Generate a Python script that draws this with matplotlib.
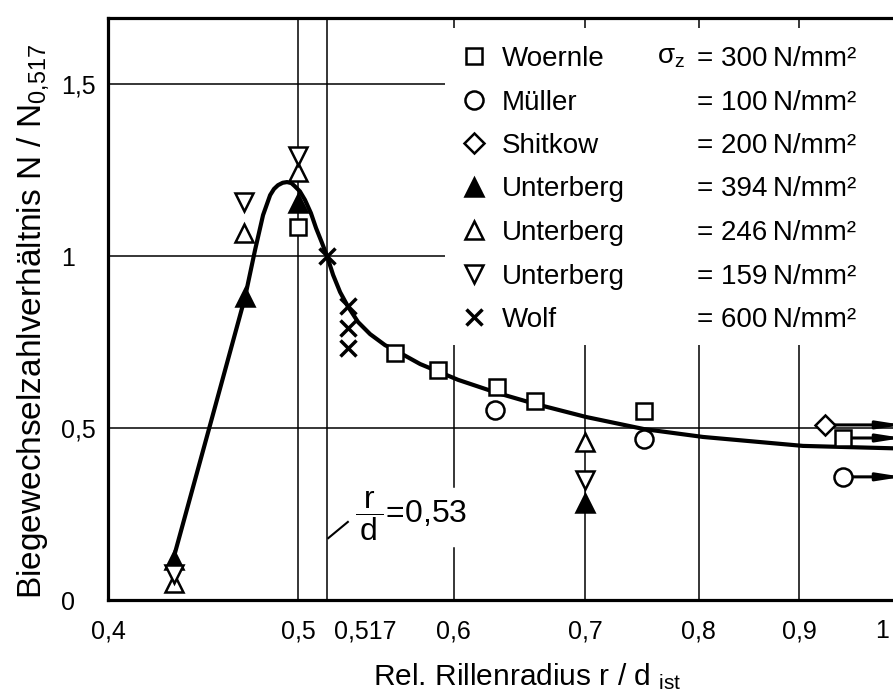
import matplotlib
matplotlib.use('Agg')
import matplotlib.pyplot as plt
import matplotlib.ticker as mticker
import matplotlib.transforms as mtransforms
from matplotlib.patches import Rectangle
from matplotlib.lines import Line2D

plt.rcParams['font.family'] = ['Liberation Sans', 'DejaVu Sans']
plt.rcParams['mathtext.fontset'] = 'custom'
plt.rcParams['mathtext.rm'] = 'Liberation Sans'
plt.rcParams['mathtext.it'] = 'Liberation Sans'
plt.rcParams['mathtext.bf'] = 'Liberation Sans:bold'

# values: x = r / d_ist, y = N / N_0,517
woernle_x = [0.500, 0.560, 0.589, 0.631, 0.660, 0.750, 0.947]
woernle_y = [1.085, 0.718, 0.669, 0.619, 0.578, 0.549, 0.471]
mueller_x = [0.630, 0.750, 0.947]
mueller_y = [0.552, 0.468, 0.358]
shitkow_x = [0.928]
shitkow_y = [0.509]
unt394_x = [0.432, 0.470, 0.500, 0.700]
unt394_y = [0.116, 0.881, 1.155, 0.282]
unt246_x = [0.432, 0.469, 0.500, 0.700]
unt246_y = [0.050, 1.067, 1.245, 0.460]
unt159_x = [0.432, 0.469, 0.500, 0.700]
unt159_y = [0.076, 1.157, 1.290, 0.349]
wolf_x = [0.517, 0.530, 0.530, 0.530]
wolf_y = [1.000, 0.855, 0.790, 0.733]

# fitted curve
curve_x = [0.4317, 0.4509, 0.4698, 0.4753, 0.4798, 0.4838, 0.4860, 0.4883, 0.4910,
           0.4935, 0.4960, 0.4980, 0.5010, 0.5040, 0.5075, 0.5106, 0.5140, 0.5172,
           0.5209, 0.5252, 0.5302, 0.5364, 0.5440, 0.5536, 0.5636, 0.5769, 0.6032,
           0.6315, 0.6603, 0.701, 0.750, 0.804, 0.904, 1.02]
curve_y = [0.116, 0.509, 0.881, 1.017, 1.119, 1.177, 1.195, 1.206, 1.213,
           1.215, 1.212, 1.203, 1.188, 1.163, 1.125, 1.081, 1.040, 1.000,
           0.945, 0.895, 0.852, 0.808, 0.773, 0.741, 0.718, 0.686, 0.640,
           0.602, 0.570, 0.532, 0.497, 0.474, 0.448, 0.440]

# points with values beyond the range (arrow to the right)
beyond_x = [0.928, 0.947, 0.947]
beyond_y = [0.509, 0.471, 0.358]

xticks = [0.4, 0.5, 0.517, 0.6, 0.7, 0.8, 0.9, 1.0]
xticklabels = ['0,4', '0,5', '0,517', '0,6', '0,7', '0,8', '0,9', '1']
yticks = [0, 0.5, 1, 1.5]
yticklabels = ['0', '0,5', '1', '1,5']

names = ['Woernle', 'Müller', 'Shitkow', 'Unterberg', 'Unterberg', 'Unterberg', 'Wolf']
stress = ['300', '100', '200', '394', '246', '159', '600']

fig = plt.figure(figsize=(8.93, 6.93), dpi=100)
ax = fig.add_axes([108 / 893, 1 - 600 / 693, 789.5 / 893, 582 / 693])
ax.set_xscale('log')
ax.set_xlim(0.4, 1.01)
ax.set_ylim(0, 1.692)

# grid
glw = 1.1
for xv in [0.5, 0.517, 0.7, 0.8, 0.9]:
    ax.axvline(xv, color='black', lw=glw, zorder=1)
ax.axvline(0.6, ymin=0, ymax=0.089, color='black', lw=glw, zorder=1)
ax.axvline(0.6, ymin=0.194, ymax=1, color='black', lw=glw, zorder=1)
for yv in [0.5, 1.0, 1.5]:
    ax.axhline(yv, color='black', lw=glw, zorder=1)
# white area behind the legend
ax.add_patch(Rectangle((0.427, 0.438), 0.7, 0.545, transform=ax.transAxes,
                       facecolor='white', edgecolor='none', zorder=1.5))

ax.plot(curve_x, curve_y, color='black', lw=3, zorder=2, solid_joinstyle='round')

mew = 1.8
h1, = ax.plot(woernle_x, woernle_y, 's', ms=11, mfc='white', mec='black', mew=mew, zorder=3)
h2, = ax.plot(mueller_x, mueller_y, 'o', ms=13, mfc='white', mec='black', mew=mew, zorder=3)
h3, = ax.plot(shitkow_x, shitkow_y, 'D', ms=10, mfc='white', mec='black', mew=mew, zorder=3)
h4, = ax.plot(unt394_x, unt394_y, '^', ms=13, mfc='black', mec='black', mew=mew, zorder=3)
h5, = ax.plot(unt246_x, unt246_y, '^', ms=13, mfc='white', mec='black', mew=mew, zorder=3)
h6, = ax.plot(unt159_x, unt159_y, 'v', ms=13, mfc='white', mec='black', mew=mew, zorder=3)
h7, = ax.plot(wolf_x, wolf_y, 'x', ms=11, mec='black', mew=2.5, zorder=3)

for bx, by in zip(beyond_x, beyond_y):
    ax.annotate('', xy=(1.016, by), xytext=(bx * 1.01, by), annotation_clip=False,
                arrowprops=dict(arrowstyle='-|>,head_length=1.4,head_width=0.22',
                                color='black', lw=2.2, shrinkA=0, shrinkB=0),
                zorder=2.5)

# r/d = 0,53 note
ax.plot([0.518, 0.530], [0.18, 0.227], color='black', lw=1.5)
ax.text(0.5345, 0.243, r'$\dfrac{\,r\,}{\,d\,}$=0,53', fontsize=23, ha='left', va='center')

# axes styling
for s in ax.spines.values():
    s.set_linewidth(2.3)
ax.set_xticks(xticks)
ax.set_xticklabels(xticklabels)
ax.xaxis.set_minor_locator(mticker.NullLocator())
ax.set_yticks(yticks)
ax.set_yticklabels(yticklabels, ha='left')
ax.tick_params(axis='x', length=0, pad=14, labelsize=18)
ax.tick_params(axis='y', length=0, pad=34, labelsize=18)
lab = ax.get_xticklabels()[2]
lab.set_ha('left')
lab.set_transform(lab.get_transform() + mtransforms.ScaledTranslation(5 / 72, 0, fig.dpi_scale_trans))
ax.get_xticklabels()[-1].set_ha('right')

fig.text(527 / 893, 1 - 677 / 693, r'Rel. Rillenradius r / d $_{\mathregular{ist}}$',
         fontsize=21.5, ha='center', va='center')
fig.text(33 / 893, 1 - 322 / 693, r'Biegewechselzahlverhältnis N / N$_{\mathregular{0{,}517}}$',
         fontsize=24, ha='center', va='center', rotation=90)

# legend: markers + names, then stresses
handles = [h1, h2, h3, h4, h5, h6, h7]
leg1 = ax.legend(handles, names, loc='upper left', bbox_to_anchor=(460 / 893, 1 - 46 / 693),
                 bbox_transform=fig.transFigure, frameon=False, fontsize=20,
                 borderpad=0, borderaxespad=0, labelspacing=0.63, handlelength=1.0,
                 handletextpad=0.5, numpoints=1)
ax.add_artist(leg1)
blank = [Line2D([], [], linestyle='none') for _ in stress]
leg2 = ax.legend(blank, ['= ' + s + '\u2009N/mm²' for s in stress], loc='upper left',
                 bbox_to_anchor=(697 / 893, 1 - 46 / 693), bbox_transform=fig.transFigure,
                 frameon=False, fontsize=20, borderpad=0, borderaxespad=0, labelspacing=0.63,
                 handlelength=0, handletextpad=0)
fig.text(657 / 893, 1 - 57 / 693, r'$\sigma_z$', fontsize=20, ha='left', va='center')

fig.savefig('out.png', dpi=100)
